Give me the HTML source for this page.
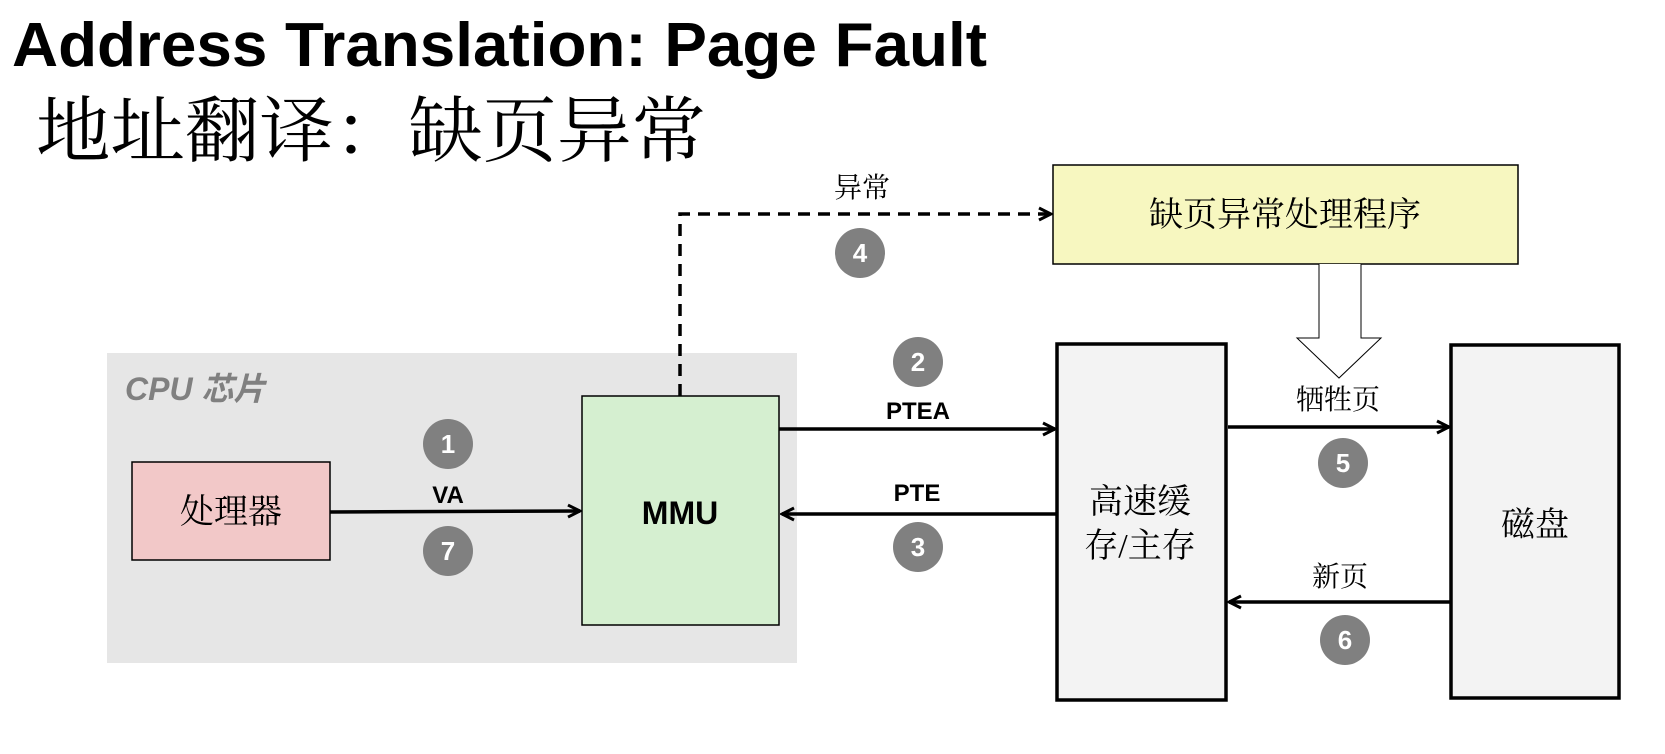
<!DOCTYPE html>
<html><head><meta charset="utf-8"><style>
html,body{margin:0;padding:0;background:#fff;}
svg{display:block;}
.cn{font-family:"Liberation Serif","Noto Serif CJK SC","Noto Sans CJK SC",serif;}
.b{font-family:"Liberation Sans","Noto Sans CJK SC",sans-serif;font-weight:bold;}
</style></head><body>
<svg width="1665" height="754" viewBox="0 0 1665 754" xmlns="http://www.w3.org/2000/svg">
<defs>
<marker id="ah" viewBox="0 0 16 16" refX="14" refY="8" markerWidth="16" markerHeight="16" markerUnits="userSpaceOnUse" orient="auto">
<path d="M2,2 L14,8 L2,14" fill="none" stroke="#000" stroke-width="3"/>
</marker>
</defs>
<text x="12" y="66" class="b" font-size="62" textLength="975" lengthAdjust="spacingAndGlyphs">Address Translation: Page Fault</text>
<text x="36" y="156" class="cn" font-size="72" textLength="670" lengthAdjust="spacingAndGlyphs">地址翻译：缺页异常</text>

<rect x="107" y="353" width="690" height="310" fill="#e6e6e6"/>
<text x="125" y="400" font-family="Liberation Sans,'Noto Sans CJK SC',sans-serif" font-weight="bold" font-style="italic" font-size="32" fill="#808080">CPU 芯片</text>

<rect x="132" y="462" width="198" height="98" fill="#f2c8c8" stroke="#000" stroke-width="1.5"/>
<text x="231" y="523" class="cn" font-size="34" text-anchor="middle">处理器</text>

<rect x="582" y="396" width="197" height="229" fill="#d5efd0" stroke="#000" stroke-width="1.5"/>
<text x="680" y="524" class="b" font-size="32" text-anchor="middle">MMU</text>

<rect x="1053" y="165" width="465" height="99" fill="#f7f7c0" stroke="#000" stroke-width="1.5"/>
<text x="1285" y="226" class="cn" font-size="34" text-anchor="middle">缺页异常处理程序</text>

<rect x="1057" y="344" width="169" height="356" fill="#f3f3f3" stroke="#000" stroke-width="3.5"/>
<text x="1140" y="513" class="cn" font-size="34" text-anchor="middle">高速缓</text>
<text x="1140" y="557" class="cn" font-size="34" text-anchor="middle">存/主存</text>

<rect x="1451" y="345" width="168" height="353" fill="#f3f3f3" stroke="#000" stroke-width="3.5"/>
<text x="1535" y="536" class="cn" font-size="34" text-anchor="middle">磁盘</text>

<path d="M680,396 V214 H1051" fill="none" stroke="#000" stroke-width="3.5" stroke-dasharray="12,8" marker-end="url(#ah)"/>
<text x="862" y="197" class="cn" font-size="28" text-anchor="middle">异常</text>

<line x1="330" y1="512" x2="580" y2="511" stroke="#000" stroke-width="3.5" marker-end="url(#ah)"/>
<text x="448" y="503" class="b" font-size="24" text-anchor="middle">VA</text>
<line x1="779" y1="429" x2="1055" y2="429" stroke="#000" stroke-width="3.5" marker-end="url(#ah)"/>
<text x="918" y="419" class="b" font-size="24" text-anchor="middle">PTEA</text>
<line x1="1057" y1="514" x2="782" y2="514" stroke="#000" stroke-width="3.5" marker-end="url(#ah)"/>
<text x="917" y="501" class="b" font-size="24" text-anchor="middle">PTE</text>
<line x1="1228" y1="427" x2="1449" y2="427" stroke="#000" stroke-width="3.5" marker-end="url(#ah)"/>
<text x="1338" y="409" class="cn" font-size="28" text-anchor="middle">牺牲页</text>
<line x1="1451" y1="602" x2="1229" y2="602" stroke="#000" stroke-width="3.5" marker-end="url(#ah)"/>
<text x="1340" y="586" class="cn" font-size="28" text-anchor="middle">新页</text>

<path d="M1319,264 V338 H1297 L1339,378 L1381,338 H1361 V264" fill="#fff" stroke="#000" stroke-width="1"/>

<g fill="#808080">
<circle cx="448" cy="444" r="25"/><circle cx="448" cy="551" r="25"/>
<circle cx="918" cy="362" r="25"/><circle cx="918" cy="547" r="25"/>
<circle cx="860" cy="253" r="25"/>
<circle cx="1343" cy="463" r="25"/><circle cx="1345" cy="640" r="25"/>
</g>
<g class="b" font-size="26" fill="#fff" text-anchor="middle">
<text x="448" y="453">1</text><text x="448" y="560">7</text>
<text x="918" y="371">2</text><text x="918" y="556">3</text>
<text x="860" y="262">4</text>
<text x="1343" y="472">5</text><text x="1345" y="649">6</text>
</g>
</svg>
</body></html>
